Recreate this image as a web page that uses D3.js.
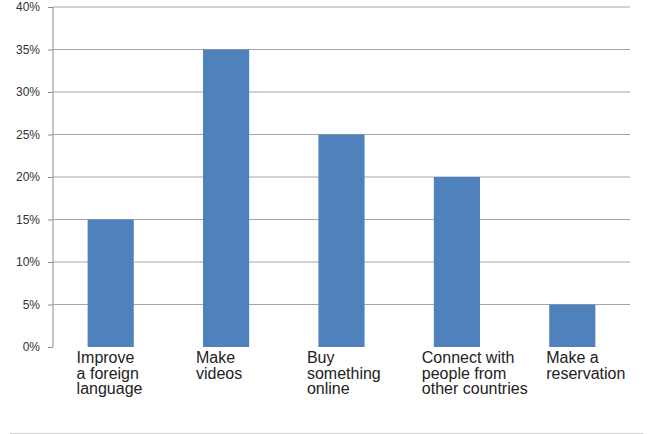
<!DOCTYPE html>
<html>
<head>
<meta charset="utf-8">
<script src="https://cdn.jsdelivr.net/npm/d3@7"></script>
<style>
  html, body { margin: 0; padding: 0; background: #fff; }
  svg { display: block; font-family: "Liberation Sans", Arial, sans-serif; }
</style>
</head>
<body>
<svg id="chart"></svg>
<script>
// data
const categories = [
  ["Improve", "a foreign", "language"],
  ["Make", "videos"],
  ["Buy", "something", "online"],
  ["Connect with", "people from", "other countries"],
  ["Make a", "reservation"]
];
const values = [15, 35, 25, 20, 5];
const yTicks = [0, 5, 10, 15, 20, 25, 30, 35, 40];

// label shift from bar's left edge (layout only)
const labelShift = [-11, -7, -11.5, -12, -3];

const width = 648, height = 434;
const margin = { top: 7, right: 18, bottom: 87, left: 53 };
const innerW = width - margin.left - margin.right;
const innerH = height - margin.top - margin.bottom;

const svg = d3.select("#chart").attr("width", width).attr("height", height);
const g = svg.append("g").attr("transform", `translate(${margin.left},${margin.top})`);

const x = d3.scaleBand()
  .domain(d3.range(values.length))
  .range([0, innerW])
  .paddingInner(0.6)
  .paddingOuter(0.3);

const y = d3.scaleLinear().domain([0, 40]).range([innerH, 0]);

// gridlines
g.append("g")
  .selectAll("line")
  .data(yTicks.filter(d => d > 0))
  .enter()
  .append("line")
  .attr("x1", 0)
  .attr("x2", innerW)
  .attr("y1", d => y(d))
  .attr("y2", d => y(d))
  .attr("stroke", "#a6a6a6")
  .attr("stroke-width", 1);

// bars
g.append("g")
  .selectAll("rect")
  .data(values)
  .enter()
  .append("rect")
  .attr("x", (d, i) => x(i))
  .attr("y", d => y(d))
  .attr("width", x.bandwidth())
  .attr("height", d => innerH - y(d))
  .attr("fill", "#4f81bd");

// y axis
const yAxis = g.append("g")
  .call(d3.axisLeft(y).tickValues(yTicks).tickSize(5).tickPadding(8).tickFormat(d => d + "%"));
yAxis.select(".domain").attr("stroke", "#8c8c8c").attr("d", `M0,0V${innerH}`);
yAxis.selectAll(".tick line").attr("stroke", "#8c8c8c");
yAxis.selectAll(".tick text")
  .attr("fill", "#333")
  .style("font-size", "12px")
  .style("font-family", "'Liberation Sans', Arial, sans-serif");

// category labels
const labels = g.append("g")
  .selectAll("text")
  .data(categories)
  .enter()
  .append("text")
  .attr("x", (d, i) => x(i) + labelShift[i])
  .attr("y", innerH + 16)
  .attr("fill", "#222")
  .style("font-size", "16px");

labels.selectAll("tspan")
  .data(d => d)
  .enter()
  .append("tspan")
  .attr("x", function() { return d3.select(this.parentNode).attr("x"); })
  .attr("dy", (d, i) => i === 0 ? 0 : 15.5)
  .text(d => d);

// bottom separator
svg.append("line")
  .attr("x1", 10)
  .attr("x2", 643)
  .attr("y1", 433.5)
  .attr("y2", 433.5)
  .attr("stroke", "#d0d0d0")
  .attr("stroke-width", 1);
</script>
</body>
</html>
